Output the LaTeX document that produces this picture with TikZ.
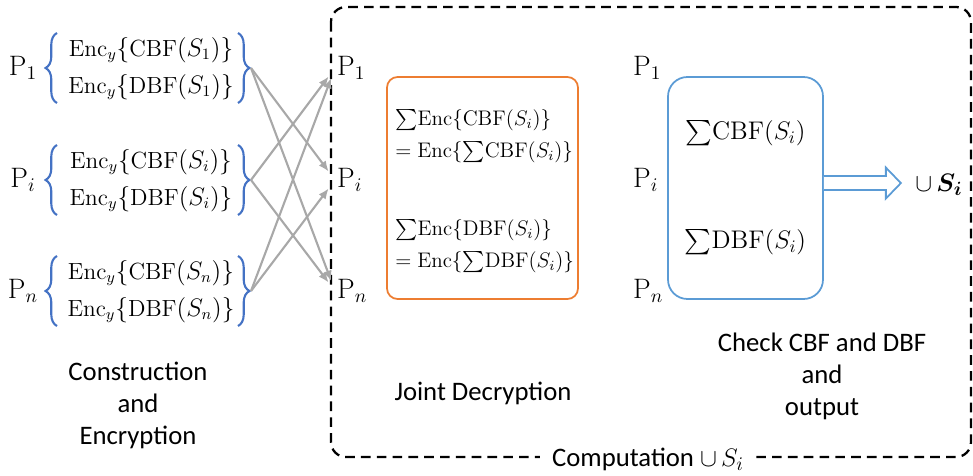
\documentclass[tikz,border=0pt]{standalone}
\usepackage{amsmath}
\usepackage{fontspec}
\newfontfamily\labelfont{Carlito}
\usetikzlibrary{arrows.meta,positioning,calc,decorations.pathreplacing}
\definecolor{bracecolor}{RGB}{68,114,196}
\definecolor{jointcolor}{RGB}{237,125,49}
\definecolor{checkcolor}{RGB}{91,155,213}
\definecolor{flowcolor}{RGB}{168,168,168}
\newcommand{\tsum}{\mathord{\textstyle\sum}}

\begin{document}
\begin{tikzpicture}[x=0.02cm,y=-0.02cm,
    party/.style={inner sep=1pt,font=\fontsize{16}{18}\selectfont},
    enc/.style={inner sep=0pt,font=\fontsize{13.3}{16}\selectfont},
    curly/.style={bracecolor,line width=1.2pt,decorate,decoration={brace,amplitude=6.5pt}},
    flow/.style={flowcolor,line width=1.2pt,-{Latex[length=6pt,width=5pt]},shorten >=6pt},
    joint/.style={draw=jointcolor,line width=1pt,rounded corners=6pt,
        minimum width=3.82cm,minimum height=4.44cm},
    jline/.style={anchor=west,inner sep=0pt,font=\fontsize{12}{14}\selectfont},
    check/.style={draw=checkcolor,line width=1pt,rounded corners=11pt,align=center,
        minimum width=3.1cm,minimum height=4.44cm,font=\fontsize{14.5}{17}\selectfont},
    hollow/.style={draw=checkcolor,fill=white,line width=1pt},
    frame/.style={black,line width=1.3pt,dash pattern=on 5.5pt off 3.5pt,rounded corners=8.5pt},
    caption/.style={align=center,font=\labelfont\fontsize{15.2}{18.2}\selectfont},
  ]
  \useasboundingbox (0,0) rectangle (973,476);

  % computation frame
  \draw[frame] (331,7) rectangle (971,457);
  \node[caption,fill=white,inner xsep=7pt,inner ysep=1pt] (comp) at (648,459) {Computation $\cup\,S_i$};

  % parties, encrypted filters and forwarded parties
  \foreach \g/\yc in {1/68,i/180,n/291}{
    \node[party] (p\g) at (23,\yc) {$\mathrm{P}_\g$};
    \node[enc] (cbf\g) at (151,{\yc-18}) {$\mathrm{Enc}_y\{\mathrm{CBF}(S_\g)\}$};
    \node[enc] (dbf\g) at (151,{\yc+19}) {$\mathrm{Enc}_y\{\mathrm{DBF}(S_\g)\}$};
    \draw[curly] (57,{\yc+35}) -- (57,{\yc-35});
    \draw[curly] (238,{\yc-35}) -- (238,{\yc+35});
    \coordinate (t\g) at (251,\yc);
    \node[party,anchor=west] (q\g) at (335,\yc) {$\mathrm{P}_\g$};
    \node[party,anchor=west] (c\g) at (631,\yc) {$\mathrm{P}_\g$};
  }
  \foreach \a/\b in {1/i,1/n,i/1,i/n,n/1,n/i}
    \draw[flow] (t\a) -- (q\b.west);

  % joint decryption
  \node[joint] (joint) at (482.5,188) {};
  \node[jline] (jc1) at (395,120) {$\tsum\mathrm{Enc}\{\mathrm{CBF}(S_i)\}$};
  \node[jline] (jc2) at (395,152) {$=\mathrm{Enc}\{\tsum\mathrm{CBF}(S_i)\}$};
  \node[jline] (jd1) at (395,230) {$\tsum\mathrm{Enc}\{\mathrm{DBF}(S_i)\}$};
  \node[jline] (jd2) at (395,262) {$=\mathrm{Enc}\{\tsum\mathrm{DBF}(S_i)\}$};
  \node[caption] (jointlabel) at (483,393) {Joint Decryption};

  % check and output
  \node[check] (chk) at (745.5,188) {$\tsum\mathrm{CBF}(S_i)$\\[45pt]$\tsum\mathrm{DBF}(S_i)$};
  \coordinate (a0) at ([yshift=2.8pt]chk.east);
  \draw[hollow] ($(a0)+(0,-7)$) -- ++(62,0) -- ++(0,-8.5) -- ++(15,15.5)
    -- ++(-15,15.5) -- ++(0,-8.5) -- ++(-62,0);
  \node[party,font=\fontsize{15}{17}\selectfont] (union) at (939,185) {$\cup\,\boldsymbol{S_i}$};
  \node[caption] (chklabel) at (822,376) {Check CBF and DBF\\and\\output};

  \node[caption] (enclabel) at (138,405) {Construction\\and\\Encryption};
\end{tikzpicture}
\end{document}
